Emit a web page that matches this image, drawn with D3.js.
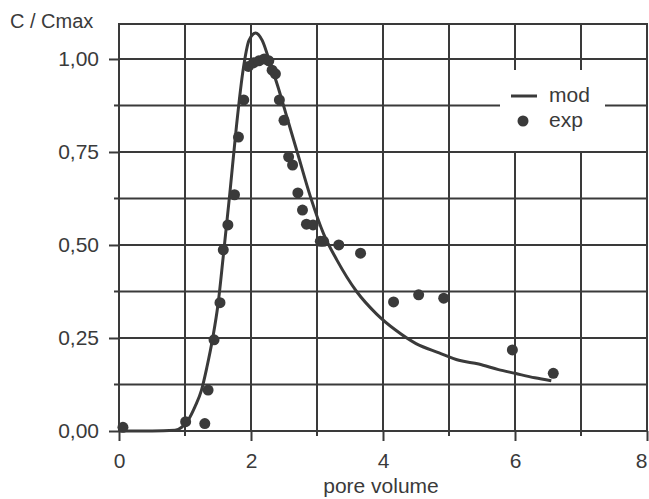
<!DOCTYPE html>
<html>
<head>
<meta charset="utf-8">
<script src="https://cdn.jsdelivr.net/npm/d3@7"></script>
<style>
  html, body { margin: 0; padding: 0; background: #fff; }
  svg text { font-family: "Liberation Sans", Arial, Helvetica, sans-serif; fill: #3a3a3a; }
</style>
</head>
<body>
<div id="chart"></div>
<script>
'use strict'

////////////////////////////////////
//////////////// data //////////////
////////////////////////////////////

const xTicks = [0, 2, 4, 6, 8]
const xMinor = [1, 3, 5, 7]
const yTicks = [0, 0.25, 0.5, 0.75, 1.0]
const yMinor = [0.125, 0.375, 0.625, 0.875]

// model curve (pore volume, C/Cmax)
const modelPV = [0, 0.5, 0.85, 0.95, 1.05, 1.15, 1.25, 1.33, 1.42, 1.5, 1.58, 1.68, 1.78, 1.88, 1.97, 2.07, 2.17, 2.27, 2.4, 2.55, 2.7, 2.9, 3.1, 3.3, 3.6, 3.9, 4.2, 4.5, 4.85, 5.15, 5.45, 5.75, 6.0, 6.3, 6.55]
const modelC = [0, 0, 0.002, 0.01, 0.03, 0.065, 0.11, 0.17, 0.25, 0.34, 0.47, 0.64, 0.82, 0.97, 1.05, 1.07, 1.05, 1.0, 0.93, 0.84, 0.75, 0.63, 0.53, 0.46, 0.375, 0.315, 0.27, 0.235, 0.21, 0.19, 0.18, 0.165, 0.155, 0.143, 0.135]

// measured points
const expPV = [0.06, 1.01, 1.30, 1.35, 1.44, 1.53, 1.58, 1.65, 1.75, 1.81, 1.89, 1.96, 2.04, 2.12, 2.2, 2.27, 2.32, 2.37, 2.43, 2.50, 2.57, 2.63, 2.71, 2.78, 2.84, 2.94, 3.05, 3.1, 3.33, 3.66, 4.16, 4.54, 4.92, 5.96, 6.58]
const expC = [0.01, 0.025, 0.02, 0.11, 0.245, 0.345, 0.487, 0.554, 0.635, 0.79, 0.89, 0.98, 0.99, 0.995, 1.0, 0.995, 0.97, 0.96, 0.89, 0.835, 0.737, 0.715, 0.64, 0.594, 0.556, 0.554, 0.51, 0.51, 0.50, 0.478, 0.347, 0.366, 0.357, 0.218, 0.155]

const legendLabels = ['mod', 'exp']

////////////////////////////////////
//////////// svg setup /////////////
////////////////////////////////////

const svgWidth = 649
const svgHeight = 499
const ink = '#3a3a3a'

const svg = d3.select('#chart')
    .append('svg')
    .attr('width', svgWidth)
    .attr('height', svgHeight)

const x = d3.scaleLinear().domain([0, 8]).range([119, 647])
const y = d3.scaleLinear().domain([0, 1.094]).range([431, 24])

const comma = d3.formatLocale({ decimal: ',', thousands: '.', grouping: [3], currency: ['', ''] })
const fmtY = comma.format('.2f')

////////////////////////////////////
//////////////// grid //////////////
////////////////////////////////////

const grid = svg.append('g')
    .attr('stroke', ink)
    .attr('stroke-width', 2)

grid.selectAll('.vgrid')
    .data(xMinor.concat(xTicks.slice(1, -1)))
    .join('line')
    .attr('x1', d => x(d)).attr('x2', d => x(d))
    .attr('y1', y(0)).attr('y2', y.range()[1])

grid.selectAll('.hgrid')
    .data(yMinor.concat(yTicks.slice(1)))
    .join('line')
    .attr('x1', x(0)).attr('x2', x(8))
    .attr('y1', d => y(d)).attr('y2', d => y(d))

// frame
svg.append('rect')
    .attr('x', x(0)).attr('y', y.range()[1])
    .attr('width', x(8) - x(0))
    .attr('height', y(0) - y.range()[1])
    .attr('fill', 'none')
    .attr('stroke', ink)
    .attr('stroke-width', 2)

////////////////////////////////////
//////////////// axes //////////////
////////////////////////////////////

const xAxis = svg.append('g')
    .attr('transform', `translate(0,${y(0)})`)
    .call(d3.axisBottom(x).tickValues(xTicks).tickSize(10).tickPadding(12).tickFormat(d3.format('d')))
xAxis.select('.domain').remove()
xAxis.selectAll('line').attr('stroke', ink).attr('stroke-width', 2)
xAxis.selectAll('text').attr('font-size', 21).style('fill', ink)
// last label sits on the page edge, nudge it in
xAxis.selectAll('text').filter(d => d === 8).attr('dx', -6)

svg.append('g')
    .attr('stroke', ink).attr('stroke-width', 2)
    .selectAll('line')
    .data(xMinor)
    .join('line')
    .attr('x1', d => x(d)).attr('x2', d => x(d))
    .attr('y1', y(0)).attr('y2', y(0) + 5)

const yAxis = svg.append('g')
    .attr('transform', `translate(${x(0)},0)`)
    .call(d3.axisLeft(y).tickValues(yTicks).tickSize(10).tickPadding(10).tickFormat(fmtY))
yAxis.select('.domain').remove()
yAxis.selectAll('line').attr('stroke', ink).attr('stroke-width', 2)
yAxis.selectAll('text').attr('font-size', 21).style('fill', ink)

svg.append('g')
    .attr('stroke', ink).attr('stroke-width', 2)
    .selectAll('line')
    .data(yMinor)
    .join('line')
    .attr('x1', x(0) - 5).attr('x2', x(0))
    .attr('y1', d => y(d)).attr('y2', d => y(d))

svg.append('text')
    .attr('x', 10).attr('y', 28)
    .attr('font-size', 20)
    .text('C / Cmax')

svg.append('text')
    .attr('x', (x(0) + x(8)) / 2 - 2).attr('y', 493)
    .attr('text-anchor', 'middle')
    .attr('font-size', 21)
    .text('pore volume')

////////////////////////////////////
/////////////// legend /////////////
////////////////////////////////////

const legend = svg.append('g')
legend.append('rect')
    .attr('x', 500).attr('y', 70).attr('width', 105).attr('height', 81)
    .attr('fill', '#fff')
legend.append('line')
    .attr('x1', 511).attr('x2', 537).attr('y1', 96).attr('y2', 96)
    .attr('stroke', ink).attr('stroke-width', 3)
legend.append('circle')
    .attr('cx', 523).attr('cy', 121).attr('r', 5.5)
    .attr('fill', ink)
legend.selectAll('text')
    .data(legendLabels)
    .join('text')
    .attr('x', 549)
    .attr('y', (d, i) => 102 + i * 25)
    .attr('font-size', 21)
    .text(d => d)

////////////////////////////////////
//////////////// marks /////////////
////////////////////////////////////

const model = modelPV.map((v, i) => [v, modelC[i]])
const points = expPV.map((v, i) => [v, expC[i]])

svg.append('path')
    .datum(model)
    .attr('fill', 'none')
    .attr('stroke', ink)
    .attr('stroke-width', 3)
    .attr('stroke-linejoin', 'round')
    .attr('d', d3.line().x(d => x(d[0])).y(d => y(d[1])).curve(d3.curveMonotoneX))

svg.append('g')
    .selectAll('circle')
    .data(points)
    .join('circle')
    .attr('cx', d => x(d[0]))
    .attr('cy', d => y(d[1]))
    .attr('r', 5.5)
    .attr('fill', ink)
</script>
</body>
</html>
